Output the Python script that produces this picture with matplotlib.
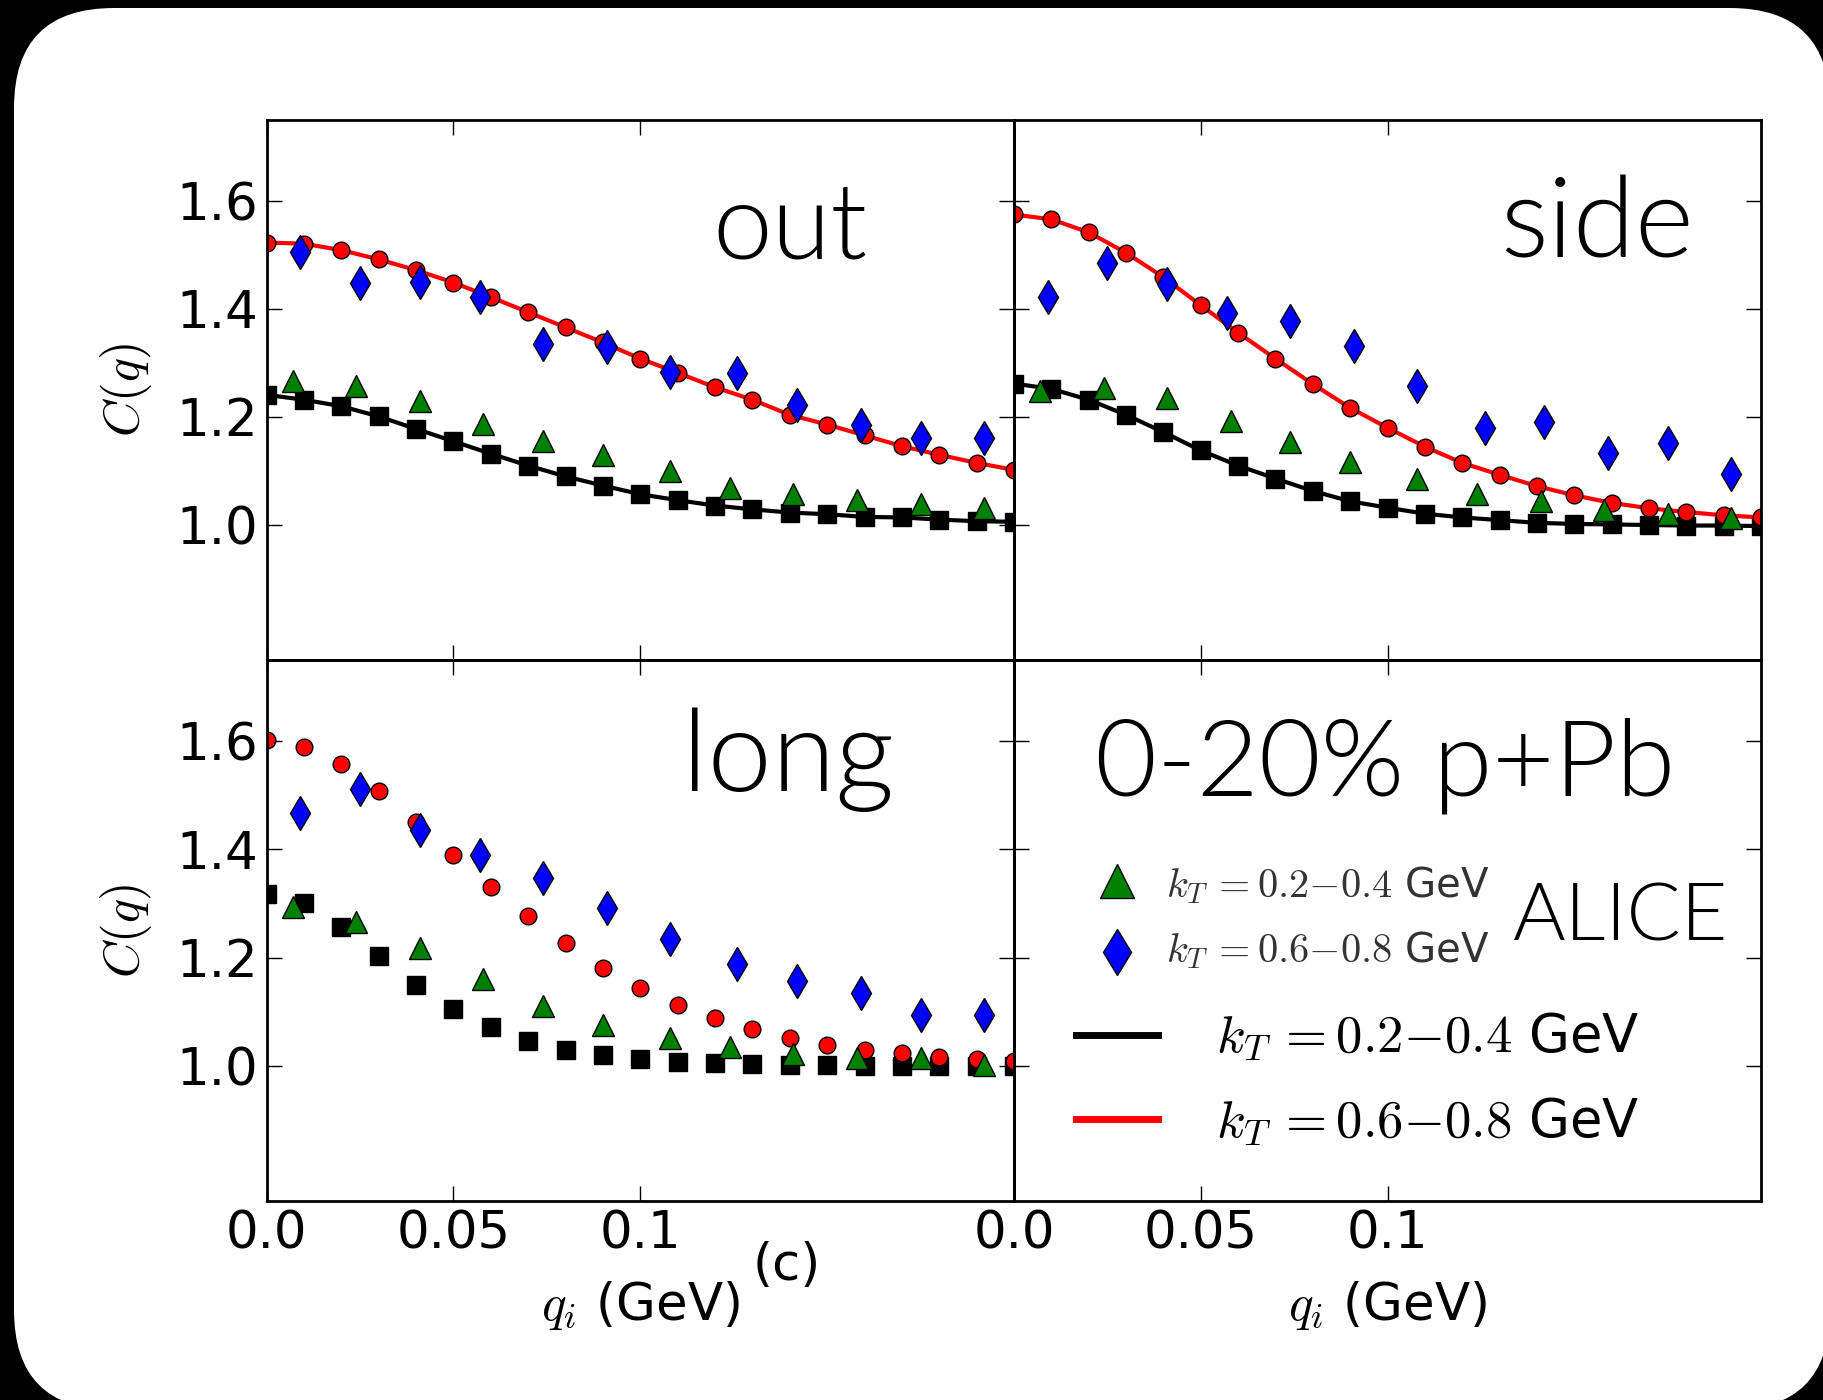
import matplotlib
matplotlib.use("Agg")
import matplotlib.pyplot as plt
from matplotlib.patches import FancyBboxPatch
from matplotlib.transforms import IdentityTransform

plt.rcParams['mathtext.fontset'] = 'cm'
plt.rcParams['font.family'] = ['DejaVu Sans']

# model grid (GeV)
q_model = [0.00, 0.01, 0.02, 0.03, 0.04, 0.05, 0.06, 0.07, 0.08, 0.09, 0.10,
           0.11, 0.12, 0.13, 0.14, 0.15, 0.16, 0.17, 0.18, 0.19, 0.20]
# ALICE bin centres (GeV)
q_alice_lo = [0.007, 0.024, 0.041, 0.058, 0.074, 0.090, 0.108, 0.124, 0.141, 0.158, 0.175, 0.192]
q_alice_hi = [0.009, 0.025, 0.041, 0.057, 0.074, 0.091, 0.108, 0.126, 0.142, 0.159, 0.175, 0.192]

# out
out_model_lo = [1.241, 1.232, 1.220, 1.201, 1.178, 1.155, 1.132, 1.110, 1.090, 1.073, 1.057,
                1.046, 1.036, 1.029, 1.023, 1.020, 1.015, 1.014, 1.010, 1.007, 1.006]
out_model_hi = [1.523, 1.521, 1.509, 1.492, 1.472, 1.449, 1.422, 1.394, 1.366, 1.338, 1.308,
                1.282, 1.255, 1.232, 1.204, 1.186, 1.166, 1.146, 1.130, 1.115, 1.102]
out_alice_lo = [1.267, 1.258, 1.230, 1.187, 1.156, 1.130, 1.100, 1.069, 1.058, 1.047, 1.039, 1.031]
out_alice_hi = [1.506, 1.448, 1.450, 1.422, 1.336, 1.329, 1.283, 1.282, 1.223, 1.185, 1.162, 1.162]

# side
side_model_lo = [1.262, 1.252, 1.232, 1.204, 1.172, 1.138, 1.110, 1.086, 1.063, 1.044, 1.032,
                 1.021, 1.014, 1.009, 1.004, 1.002, 1.001, 1.000, 0.999, 0.999, 0.998]
side_model_hi = [1.575, 1.566, 1.542, 1.504, 1.459, 1.407, 1.356, 1.308, 1.261, 1.217, 1.180,
                 1.145, 1.115, 1.093, 1.072, 1.055, 1.041, 1.031, 1.024, 1.018, 1.014]
side_alice_lo = [1.249, 1.253, 1.236, 1.193, 1.153, 1.116, 1.086, 1.057, 1.044, 1.028, 1.021, 1.013]
side_alice_hi = [1.422, 1.485, 1.446, 1.392, 1.377, 1.332, 1.258, 1.180, 1.191, 1.134, 1.151, 1.094]

# long
long_model_lo = [1.318, 1.301, 1.256, 1.202, 1.150, 1.105, 1.071, 1.046, 1.030, 1.020, 1.012,
                 1.007, 1.005, 1.003, 1.002, 1.001, 1.000, 1.000, 1.000, 0.999, 0.999]
long_model_hi = [1.603, 1.589, 1.557, 1.507, 1.451, 1.390, 1.331, 1.276, 1.226, 1.181, 1.144,
                 1.113, 1.088, 1.068, 1.051, 1.038, 1.030, 1.023, 1.017, 1.012, 1.009]
long_alice_lo = [1.293, 1.266, 1.217, 1.160, 1.110, 1.076, 1.051, 1.034, 1.022, 1.015, 1.014, 1.002]
long_alice_hi = [1.467, 1.511, 1.435, 1.390, 1.347, 1.292, 1.234, 1.188, 1.156, 1.134, 1.094, 1.094]

x_ticks = [0.0, 0.05, 0.1]
x_ticklabels = ['0.0', '0.05', '0.1']
y_ticks = [1.0, 1.2, 1.4, 1.6]
y_ticklabels = ['1.0', '1.2', '1.4', '1.6']
kt_lo = r'$k_T\,{=}0.2{-}0.4$ GeV'
kt_hi = r'$k_T\,{=}0.6{-}0.8$ GeV'

W, H = 1823, 1400
fig = plt.figure(figsize=(W / 100, H / 100), dpi=100)
fig.patch.set_facecolor('black')

# white rounded card behind everything
card = FancyBboxPatch((14, -10), 1816, 1402, boxstyle='round,pad=0,rounding_size=100',
                      facecolor='white', edgecolor='none', transform=IdentityTransform(),
                      zorder=-10)
fig.add_artist(card)

L, M, R = 266.5, 1014, 1761
T, C, B = 120, 660, 1201
def frac_rect(x0, x1, y0, y1):
    return [x0 / W, 1 - y1 / H, (x1 - x0) / W, (y1 - y0) / H]

ax_out = fig.add_axes(frac_rect(L, M, T, C))
ax_side = fig.add_axes(frac_rect(M, R, T, C))
ax_long = fig.add_axes(frac_rect(L, M, C, B))
ax_leg = fig.add_axes(frac_rect(M, R, C, B))

TICK_FS = 37
for ax in (ax_out, ax_side, ax_long, ax_leg):
    ax.set_facecolor('none')
    ax.set_xlim(0, 0.2)
    ax.set_ylim(0.75, 1.75)
    ax.set_xticks(x_ticks)
    ax.set_yticks(y_ticks)
    ax.tick_params(direction='in', length=11, width=1, top=True, right=True,
                   labelsize=TICK_FS, pad=6)
    for s in ax.spines.values():
        s.set_linewidth(2.0)
    ax.set_xticklabels(x_ticklabels)
    ax.set_yticklabels(y_ticklabels)

for ax in (ax_out, ax_side):
    ax.tick_params(labelbottom=False)
for ax in (ax_side, ax_leg):
    ax.tick_params(labelleft=False)

model_kw = dict(markeredgecolor='black', markeredgewidth=1.0, clip_on=True)
def draw_panel(ax, lo, hi, a_lo, a_hi, lines=True):
    ls = '-' if lines else 'none'
    ax.plot(q_model, lo, color='black', ls=ls, lw=3, marker='s', ms=13,
            markerfacecolor='black', **model_kw)
    ax.plot(q_model, hi, color='red', ls=ls, lw=3, marker='o', ms=12,
            markerfacecolor='red', **model_kw)
    ax.plot(q_alice_lo, a_lo, ls='none', marker='^', ms=16, markerfacecolor='green',
            markeredgecolor='black', markeredgewidth=1.0)
    ax.plot(q_alice_hi, a_hi, ls='none', marker='d', ms=17, markerfacecolor='blue',
            markeredgecolor='black', markeredgewidth=1.0)

draw_panel(ax_out, out_model_lo, out_model_hi, out_alice_lo, out_alice_hi)
draw_panel(ax_side, side_model_lo, side_model_hi, side_alice_lo, side_alice_hi)
draw_panel(ax_long, long_model_lo, long_model_hi, long_alice_lo, long_alice_hi, lines=False)

# panel titles
title_font = dict(family=['Lato', 'DejaVu Sans'], weight=300)
ax_out.text(0.804, 0.743, 'out', transform=ax_out.transAxes, ha='right', va='baseline',
            fontsize=77, **title_font)
ax_side.text(0.910, 0.746, 'side', transform=ax_side.transAxes, ha='right', va='baseline',
             fontsize=81, **title_font)
ax_long.text(0.840, 0.758, 'long', transform=ax_long.transAxes, ha='right', va='baseline',
             fontsize=83, **title_font)
ax_leg.text(0.108, 0.750, '0-20% p+Pb', transform=ax_leg.transAxes, ha='left', va='baseline',
            fontsize=77, **title_font)
ax_leg.text(0.668, 0.481, 'ALICE', transform=ax_leg.transAxes, ha='left', va='baseline',
            fontsize=58, **title_font)

# data key
ax_leg.plot([0.138], [0.591], transform=ax_leg.transAxes, ls='none', marker='^', ms=24,
            markerfacecolor='green', markeredgecolor='black', markeredgewidth=1.0)
ax_leg.plot([0.138], [0.460], transform=ax_leg.transAxes, ls='none', marker='d', ms=23,
            markerfacecolor='blue', markeredgecolor='black', markeredgewidth=1.0)
ax_leg.text(0.2035, 0.5625, kt_lo, transform=ax_leg.transAxes, ha='left', va='baseline',
            fontsize=29, color='#333333')
ax_leg.text(0.2035, 0.442, kt_hi, transform=ax_leg.transAxes, ha='left', va='baseline',
            fontsize=29, color='#333333')

# model key
ax_leg.plot([0.083, 0.193], [0.307, 0.307], transform=ax_leg.transAxes, color='black', lw=5)
ax_leg.plot([0.083, 0.193], [0.152, 0.152], transform=ax_leg.transAxes, color='red', lw=5)
ax_leg.text(0.270, 0.276, kt_lo, transform=ax_leg.transAxes, ha='left', va='baseline',
            fontsize=38)
ax_leg.text(0.270, 0.119, kt_hi, transform=ax_leg.transAxes, ha='left', va='baseline',
            fontsize=38)

# axis labels
for ax in (ax_out, ax_long):
    ax.set_ylabel(r'$C(q)$', fontsize=36)
    ax.yaxis.set_label_coords(-0.15, 0.5)
for ax in (ax_long, ax_leg):
    ax.set_xlabel(r'$q_i$ (GeV)', fontsize=TICK_FS, labelpad=14)

fig.text(753 / W, 1 - 1280 / H, '(c)', fontsize=TICK_FS, ha='left', va='baseline')

fig.savefig('out.png', dpi=100, facecolor=fig.get_facecolor())
